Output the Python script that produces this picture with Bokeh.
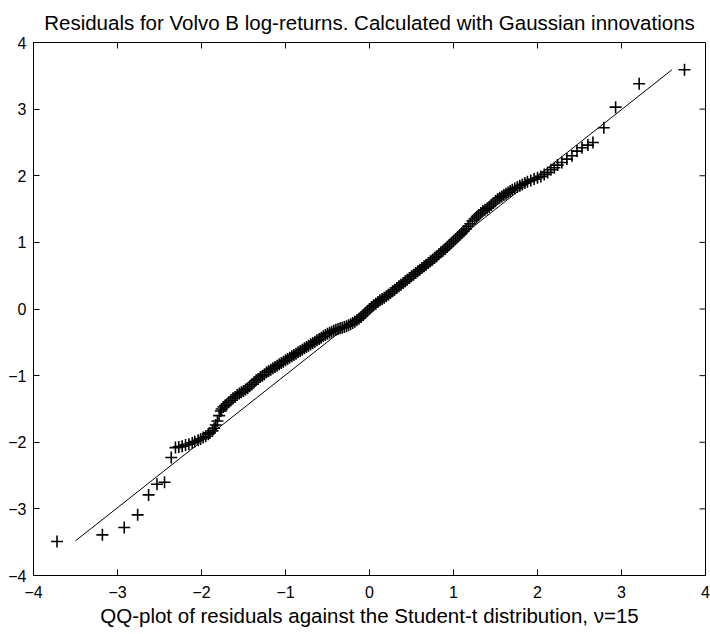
from bokeh.plotting import figure
from bokeh.models import FixedTicker, Range1d
from bokeh.embed import file_html
from bokeh.resources import INLINE

# Theoretical Student-t (v=15) quantiles and the sorted standardized residuals
t_quantiles = [
    -3.72, -3.18, -2.92, -2.76, -2.63, -2.53, -2.44, -2.36, -2.31, -2.27,
    -2.23, -2.19, -2.15, -2.11, -2.08, -2.04, -2.01, -1.98, -1.95, -1.92,
    -1.90, -1.87, -1.85, -1.83, -1.81, -1.79, -1.77, -1.76, -1.74, -1.72,
    -1.700, -1.675, -1.650, -1.625, -1.600, -1.575, -1.550, -1.525, -1.500, -1.475,
    -1.450, -1.425, -1.400, -1.375, -1.350, -1.325, -1.300, -1.275, -1.250, -1.225,
    -1.200, -1.175, -1.150, -1.125, -1.100, -1.075, -1.050, -1.025, -1.000, -0.975,
    -0.950, -0.925, -0.900, -0.875, -0.850, -0.825, -0.800, -0.775, -0.750, -0.725,
    -0.700, -0.675, -0.650, -0.625, -0.600, -0.575, -0.550, -0.525, -0.500, -0.475,
    -0.450, -0.425, -0.400, -0.375, -0.350, -0.325, -0.300, -0.275, -0.250, -0.225,
    -0.200, -0.175, -0.150, -0.125, -0.100, -0.075, -0.050, -0.025, 0.000, 0.025,
    0.050, 0.075, 0.100, 0.125, 0.150, 0.175, 0.200, 0.225, 0.250, 0.275,
    0.300, 0.325, 0.350, 0.375, 0.400, 0.425, 0.450, 0.475, 0.500, 0.525,
    0.550, 0.575, 0.600, 0.625, 0.650, 0.675, 0.700, 0.725, 0.750, 0.775,
    0.800, 0.825, 0.850, 0.875, 0.900, 0.925, 0.950, 0.975, 1.000, 1.025,
    1.050, 1.075, 1.100, 1.125, 1.150, 1.175, 1.200, 1.225, 1.250, 1.275,
    1.300, 1.325, 1.350, 1.375, 1.400, 1.425, 1.450, 1.475, 1.500, 1.525,
    1.550, 1.575, 1.600, 1.625, 1.650, 1.675, 1.700,
    1.73, 1.76, 1.79, 1.82, 1.85, 1.88, 1.92, 1.96, 2.00, 2.04,
    2.08, 2.12, 2.16, 2.20, 2.24, 2.29, 2.35, 2.41, 2.47, 2.53,
    2.60, 2.66, 2.79, 2.93, 3.21, 3.75,
]
residuals = [
    -3.49, -3.39, -3.28, -3.09, -2.79, -2.63, -2.60, -2.23, -2.08, -2.07,
    -2.06, -2.04, -2.03, -2.01, -1.99, -1.97, -1.95, -1.93, -1.91, -1.88,
    -1.86, -1.83, -1.79, -1.74, -1.68, -1.60, -1.53, -1.50, -1.47, -1.45,
    -1.43, -1.40, -1.37, -1.34, -1.32, -1.29, -1.27, -1.25, -1.23, -1.21,
    -1.19, -1.16, -1.13, -1.10, -1.07, -1.05, -1.02, -1.00, -0.98, -0.95,
    -0.93, -0.91, -0.89, -0.87, -0.85, -0.83, -0.81, -0.79, -0.77, -0.75,
    -0.73, -0.71, -0.69, -0.67, -0.65, -0.63, -0.61, -0.59, -0.57, -0.55,
    -0.53, -0.51, -0.49, -0.47, -0.45, -0.43, -0.41, -0.39, -0.37, -0.355,
    -0.34, -0.325, -0.31, -0.30, -0.29, -0.28, -0.27, -0.26, -0.245, -0.23,
    -0.21, -0.19, -0.17, -0.145, -0.12, -0.09, -0.06, -0.03, 0.00, 0.03,
    0.055, 0.08, 0.105, 0.13, 0.15, 0.17, 0.19, 0.215, 0.24, 0.265,
    0.29, 0.315, 0.34, 0.365, 0.39, 0.415, 0.44, 0.465, 0.49, 0.515,
    0.54, 0.565, 0.59, 0.615, 0.64, 0.665, 0.69, 0.715, 0.74, 0.765,
    0.79, 0.82, 0.85, 0.875, 0.90, 0.93, 0.96, 0.99, 1.02, 1.05,
    1.08, 1.11, 1.14, 1.17, 1.20, 1.24, 1.28, 1.32, 1.35, 1.38,
    1.41, 1.44, 1.47, 1.49, 1.51, 1.53, 1.56, 1.59, 1.62, 1.65,
    1.67, 1.69, 1.71, 1.73, 1.75, 1.77, 1.79,
    1.81, 1.83, 1.85, 1.87, 1.89, 1.91, 1.93, 1.95, 1.97, 1.99,
    2.02, 2.05, 2.09, 2.12, 2.16, 2.20, 2.25, 2.30, 2.37, 2.42,
    2.46, 2.50, 2.72, 3.03, 3.38, 3.59,
]

# Reference line through the quartiles, drawn over the data range
ref_x = [-3.50, 3.60]
ref_y = [-3.48, 3.59]

ticks = [-4, -3, -2, -1, 0, 1, 2, 3, 4]
inner_ticks = [-3, -2, -1, 0, 1, 2, 3]

FONT = "Liberation Sans"

p = figure(
    width=710, height=634,
    x_range=Range1d(-4, 4), y_range=Range1d(-4, 4),
    output_backend="svg", toolbar_location=None,
    title="Residuals for Volvo B log-returns. Calculated with Gaussian innovations",
    min_border_left=33, min_border_right=5, min_border_top=42, min_border_bottom=59,
)
p.title.align = "center"
p.title.vertical_align = "top"
p.title.text_font = FONT
p.title.text_font_size = "20.5px"
p.title.text_font_style = "normal"
p.title.text_color = "black"
p.title.offset = 0
p.title.standoff = 14

p.xgrid.visible = False
p.ygrid.visible = False
p.outline_line_color = "black"
p.outline_line_width = 1
p.background_fill_color = "white"
p.border_fill_color = "white"

for ax in (p.xaxis[0], p.yaxis[0]):
    ax.ticker = FixedTicker(ticks=ticks)
    ax.minor_tick_line_color = None
    ax.major_tick_in = 6
    ax.major_tick_out = 0
    ax.axis_line_color = "black"
    ax.major_tick_line_color = "black"
    ax.major_label_text_font = FONT
    ax.major_label_text_font_size = "16px"
    ax.major_label_text_color = "black"
p.xaxis.major_label_standoff = 10
p.yaxis.major_label_standoff = 7

p.xaxis.axis_label = "QQ-plot of residuals against the Student-t distribution, \u03bd=15"
p.xaxis.axis_label_text_font = FONT
p.xaxis.axis_label_text_font_size = "20.5px"
p.xaxis.axis_label_text_font_style = "normal"
p.xaxis.axis_label_text_color = "black"
p.xaxis.axis_label_standoff = 3

# Inward ticks along the top and right edges of the box
tick_len_x = 6 / 84
tick_len_y = 6 / 66.6
p.segment(x0=inner_ticks, y0=[4] * len(inner_ticks),
          x1=inner_ticks, y1=[4 - tick_len_y] * len(inner_ticks),
          line_color="black", line_width=1)
p.segment(x0=[4] * len(inner_ticks), y0=inner_ticks,
          x1=[4 - tick_len_x] * len(inner_ticks), y1=inner_ticks,
          line_color="black", line_width=1)

p.line(ref_x, ref_y, line_color="black", line_width=1)
p.scatter(t_quantiles, residuals, marker="cross", size=12,
          line_color="black", line_width=1.6)

open("out.html", "w").write(file_html(p, INLINE))
